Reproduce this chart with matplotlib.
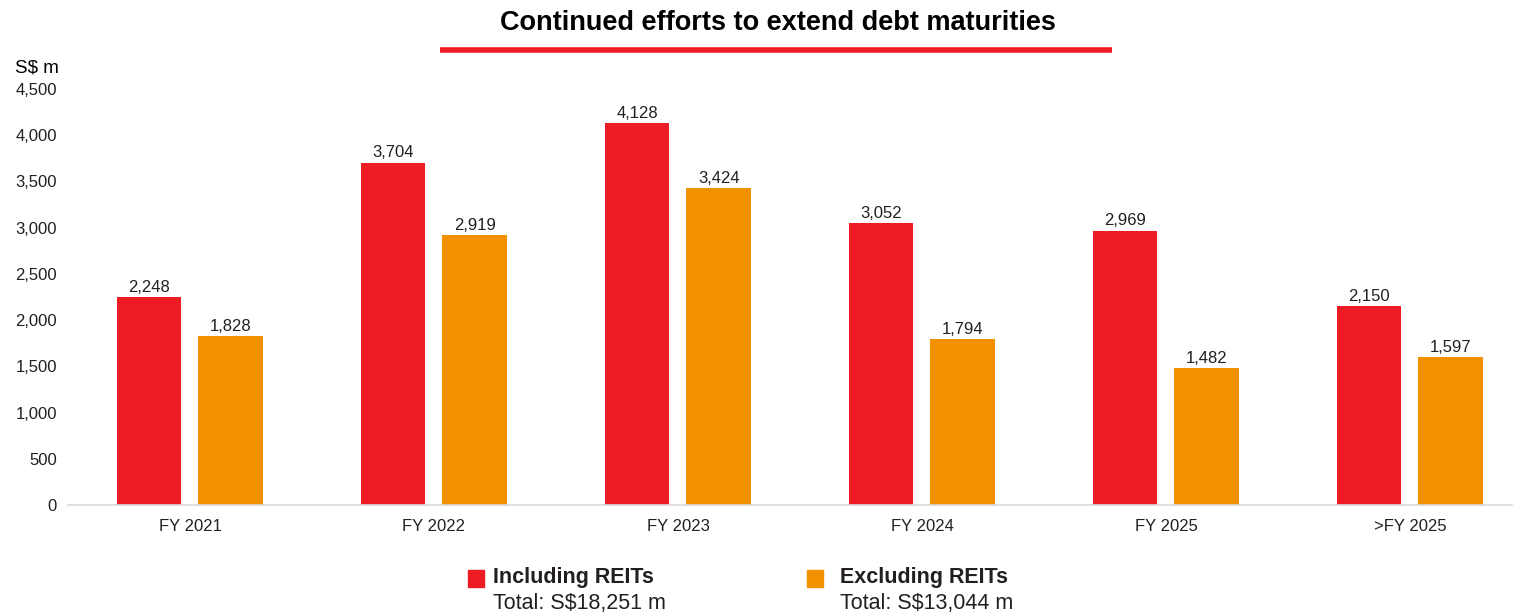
import numpy as np
from matplotlib import pyplot as plt

categories = ["FY 2021", "FY 2022", "FY 2023", "FY 2024", "FY 2025", ">FY 2025"]
incl_reits = [2248, 3704, 4128, 3052, 2969, 2150]
excl_reits = [1828, 2919, 3424, 1794, 1482, 1597]
series_names = ["Including REITs", "Excluding REITs"]
totals = ["Total: S$18,251 m", "Total: S$13,044 m"]
yticks = [0, 500, 1000, 1500, 2000, 2500, 3000, 3500, 4000, 4500]

RED = "#ed1c24"
ORANGE = "#f29100"
TXT = "#231f20"

plt.rcParams['font.family'] = ['Liberation Sans', 'DejaVu Sans']

fig = plt.figure(figsize=(15.16, 6.12), dpi=100)
ax = fig.add_axes([68 / 1516, 1 - 505 / 612, 1444 / 1516, 416 / 612])

x = np.arange(len(categories))
w = 0.265
b1 = ax.bar(x - 0.168, incl_reits, w, color=RED)
b2 = ax.bar(x + 0.167, excl_reits, w, color=ORANGE)

for bars, vals in [(b1, incl_reits), (b2, excl_reits)]:
    for r, v in zip(bars, vals):
        ax.text(r.get_x() + r.get_width() / 2, v + 25, f"{v:,}",
                ha="center", va="bottom", fontsize=12, color=TXT)

ax.set_xlim(-0.5, -0.5 + 1444 / 244)
ax.set_ylim(0, 4500)
ax.set_yticks(yticks)
ax.set_yticklabels([f"{t:,}" for t in yticks], fontsize=12, color=TXT)
ax.set_xticks(x)
ax.set_xticklabels(categories, fontsize=12, color=TXT)
ax.tick_params(length=0, axis="y", pad=8)
ax.tick_params(length=0, axis="x", pad=10)
for s in ["top", "right", "left"]:
    ax.spines[s].set_visible(False)
ax.spines["bottom"].set_color("#d9d9d9")
ax.spines["bottom"].set_linewidth(1.2)

fig.text(15 / 1516, 1 - 68 / 612, "S$ m", fontsize=13.5, color="black", va="center")

# title with red underline
fig.text(778 / 1516, 1 - 23 / 612, "Continued efforts to extend debt maturities",
         fontsize=19.5, fontweight="bold", ha="center", va="center", color="black")
fig.add_artist(plt.Line2D([440 / 1516, 1112 / 1516], [1 - 50 / 612, 1 - 50 / 612],
                          color=RED, linewidth=4, solid_capstyle="butt"))

# legend
for i, (name, tot, col) in enumerate(zip(series_names, totals, [RED, ORANGE])):
    sx = [468, 807][i]
    tx = [493, 840][i]
    fig.patches.append(plt.Rectangle((sx / 1516, 1 - 587 / 612), 16 / 1516, 17 / 612,
                                     transform=fig.transFigure, color=col))
    fig.text(tx / 1516, 1 - 578 / 612, name, fontsize=15.5, fontweight="bold",
             color=TXT, va="center")
    fig.text(tx / 1516, 1 - 603 / 612, tot, fontsize=15.5, color=TXT, va="center")

fig.savefig("out.png", dpi=100)
